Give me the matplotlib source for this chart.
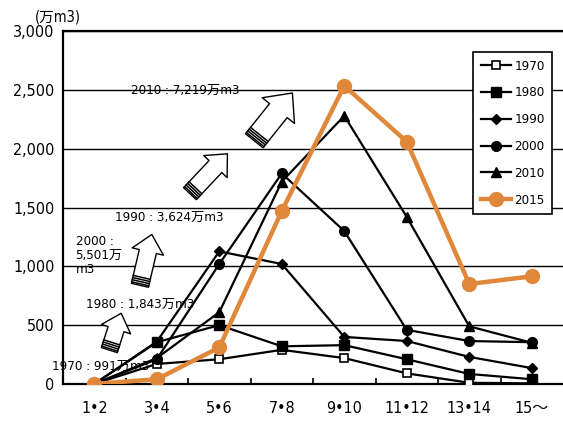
import numpy as np
import matplotlib
matplotlib.use("Agg")
import matplotlib.pyplot as plt
from matplotlib.patches import FancyArrowPatch

plt.rcParams['font.family'] = ['DejaVu Sans', 'Noto Sans CJK JP']
plt.rcParams['font.stretch'] = 'condensed'

# month buckets and monthly volume (万m3) per year
months = ["1•2", "3•4", "5•6", "7•8", "9•10", "11•12", "13•14", "15～"]
v1970 = [0, 170, 210, 290, 220, 90, 10, 5]
v1980 = [0, 355, 500, 320, 330, 210, 85, 40]
v1990 = [0, 360, 1127, 1020, 400, 365, 230, 135]
v2000 = [0, 210, 1020, 1790, 1300, 460, 365, 355]
v2010 = [0, 220, 610, 1720, 2280, 1420, 490, 350]
v2015 = [0, 40, 310, 1470, 2535, 2060, 850, 915]

totals = ["1970 : 991万m3", "1980 : 1,843万m3", "2000 :\n5,501万\nm3",
          "1990 : 3,624万m3", "2010 : 7,219万m3"]

orange = "#E0873A"

fig = plt.figure(figsize=(5.63, 4.21), dpi=100)
ax = fig.add_axes([0.112, 0.088, 0.888, 0.838])

x = np.arange(len(months))
ax.set_xlim(-0.5, 7.5)
ax.set_ylim(0, 3000)

for v in range(500, 3001, 500):
    ax.axhline(v, color="black", lw=1.0, zorder=1)

# total volume notes and growth arrows (drawn under the lines)
txt_kw = dict(fontsize=9.5, zorder=2, va="center")
ax.text(-0.67, 150, totals[0], **txt_kw)
ax.text(-0.13, 680, totals[1], **txt_kw)
ax.text(-0.30, 1090, totals[2], linespacing=1.1, **txt_kw)
ax.text(0.33, 1420, totals[3], **txt_kw)
ax.text(0.59, 2500, totals[4], **txt_kw)

arrows = [((0.24, 288), (0.43, 601), 1.0),
          ((0.73, 839), (0.92, 1271), 1.05),
          ((1.53, 1618), (2.13, 1957), 1.05),
          ((2.56, 2068), (3.17, 2474), 1.35)]
for (x0, y0), (x1, y1), s in arrows:
    ax.add_patch(FancyArrowPatch(
        (x0, y0), (x1, y1), mutation_scale=1, zorder=2,
        arrowstyle=f"simple,head_length={12*s},head_width={22*s},tail_width={12*s}",
        fc="white", ec="black", lw=1.0, shrinkA=0, shrinkB=0))
    # striped tail
    p0 = ax.transData.transform((x0, y0))
    p1 = ax.transData.transform((x1, y1))
    d = (p1 - p0) / np.hypot(*(p1 - p0))
    n = np.array([-d[1], d[0]])
    half = 8.3 * s
    for k in range(4):
        c = p0 + d * (1.5 + 2.2 * k)
        a, b = c - n * half, c + n * half
        ax.plot([a[0], b[0]], [a[1], b[1]], color="black", lw=1.1,
                transform=None, zorder=2)

blk = dict(color="black", lw=1.6, zorder=4)
ax.plot(x, v1970, marker="s", ms=6, mfc="white", mec="black", mew=1.2, label="1970", **blk)
ax.plot(x, v1980, marker="s", ms=7, label="1980", **blk)
ax.plot(x, v1990, marker="D", ms=5, label="1990", **blk)
ax.plot(x, v2000, marker="o", ms=7, label="2000", **blk)
ax.plot(x, v2010, marker="^", ms=7, label="2010", **blk)
ax.plot(x, v2015, marker="o", ms=10, color=orange, lw=3.2, label="2015", zorder=5)

ax.set_xticks(x)
ax.set_xticklabels(months, fontsize=11.5)
ax.set_xticks(np.arange(0.5, 7, 1), minor=True)
ax.tick_params(axis="x", which="major", length=0, pad=12)
ax.tick_params(axis="x", which="minor", direction="in", length=4, width=1.2)

ax.set_yticks(range(0, 3001, 500))
ax.set_yticklabels([f"{v:,}" for v in range(0, 3001, 500)], fontsize=11.5)
ax.tick_params(axis="y", length=0, pad=6)

for side in ["left", "bottom", "top"]:
    ax.spines[side].set_linewidth(1.6)
ax.spines["right"].set_visible(False)

fig.text(0.062, 0.96, "(万m3)", fontsize=10.5, va="center")

leg = ax.legend(loc="upper right", bbox_to_anchor=(0.978, 0.94), fontsize=9.5,
                handlelength=2.3, labelspacing=1.05, borderpad=0.55,
                borderaxespad=0, handletextpad=0.25, fancybox=False,
                framealpha=1, edgecolor="black")
leg.get_frame().set_linewidth(1.2)

fig.savefig("out.png", dpi=100)
